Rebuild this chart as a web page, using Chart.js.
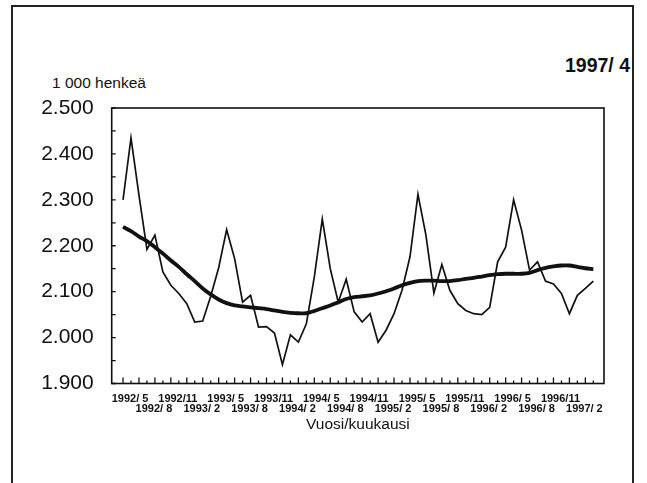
<!DOCTYPE html>
<html>
<head>
<meta charset="utf-8">
<script src="https://cdn.jsdelivr.net/npm/chart.js@4.4.0/dist/chart.umd.min.js"></script>
<style>
  body { margin: 0; background: #fff; overflow: hidden; }
  #wrap { position: relative; width: 647px; height: 483px; font-family: "Liberation Sans", Arial, sans-serif; color: #111; }
  #frame { position: absolute; left: 11px; top: 5px; width: 619px; height: 500px; border: 2px solid #222; border-bottom: none; }
  #stamp { position: absolute; right: 17px; top: 56px; font-size: 19.5px; font-weight: bold; line-height: 1; }
  #unit { position: absolute; left: 52px; top: 75px; font-size: 15.5px; line-height: 1; }
  canvas { position: absolute; left: 0; top: 0; }
</style>
</head>
<body>
<div id="wrap">
  <div id="frame"></div>
  <div id="stamp">1997/ 4</div>
  <div id="unit">1 000 henkeä</div>
  <canvas id="chart" width="647" height="483"></canvas>
</div>
<script>
// Months, 1992/5 - 1997/4
const months = [
	'1992/ 5', '1992/ 6', '1992/ 7', '1992/ 8', '1992/ 9', '1992/10', '1992/11', '1992/12',
	'1993/ 1', '1993/ 2', '1993/ 3', '1993/ 4', '1993/ 5', '1993/ 6', '1993/ 7', '1993/ 8', '1993/ 9', '1993/10', '1993/11', '1993/12',
	'1994/ 1', '1994/ 2', '1994/ 3', '1994/ 4', '1994/ 5', '1994/ 6', '1994/ 7', '1994/ 8', '1994/ 9', '1994/10', '1994/11', '1994/12',
	'1995/ 1', '1995/ 2', '1995/ 3', '1995/ 4', '1995/ 5', '1995/ 6', '1995/ 7', '1995/ 8', '1995/ 9', '1995/10', '1995/11', '1995/12',
	'1996/ 1', '1996/ 2', '1996/ 3', '1996/ 4', '1996/ 5', '1996/ 6', '1996/ 7', '1996/ 8', '1996/ 9', '1996/10', '1996/11', '1996/12',
	'1997/ 1', '1997/ 2', '1997/ 3', '1997/ 4'
];

// Monthly values, 1 000 persons (millions on the axis)
const monthly = [
	2.300, 2.435, 2.310, 2.192, 2.223, 2.143, 2.114, 2.096, 2.074, 2.034, 2.036, 2.090,
	2.152, 2.235, 2.172, 2.077, 2.092, 2.023, 2.024, 2.010, 1.941, 2.006, 1.990, 2.030,
	2.132, 2.258, 2.150, 2.077, 2.127, 2.056, 2.034, 2.052, 1.990, 2.016, 2.052, 2.103,
	2.176, 2.312, 2.223, 2.097, 2.159, 2.103, 2.074, 2.059, 2.052, 2.050, 2.066, 2.165,
	2.197, 2.300, 2.234, 2.147, 2.165, 2.123, 2.117, 2.096, 2.052, 2.092, 2.107, 2.123
];

// Trend
const trend = [
	2.241, 2.232, 2.220, 2.210, 2.197, 2.183, 2.168, 2.154, 2.138, 2.123, 2.107, 2.094,
	2.083, 2.075, 2.070, 2.068, 2.066, 2.064, 2.062, 2.059, 2.056, 2.054, 2.053, 2.053,
	2.058, 2.064, 2.070, 2.077, 2.084, 2.088, 2.090, 2.092, 2.096, 2.101, 2.107, 2.114,
	2.119, 2.123, 2.124, 2.124, 2.123, 2.123, 2.125, 2.128, 2.130, 2.133, 2.136, 2.138,
	2.139, 2.139, 2.139, 2.141, 2.147, 2.152, 2.155, 2.157, 2.157, 2.154, 2.151, 2.149
];

// every third month gets a label, in two rows
const labelStep = 3;

const yTicks = [1.9, 2.0, 2.1, 2.2, 2.3, 2.4, 2.5];

Chart.defaults.font.family = '"Liberation Sans", Arial, sans-serif';
Chart.defaults.color = '#111';

// box round the plot and inward tick marks
const axisBox = {
	id: 'axisBox',
	afterDatasetsDraw( chart ) {
		const ctx = chart.ctx,
			area = chart.chartArea,
			xs = chart.scales.x,
			ys = chart.scales.y;

		ctx.save();
		ctx.strokeStyle = '#111';
		ctx.lineWidth = 1.6;
		ctx.strokeRect( area.left, area.top, area.right - area.left, area.bottom - area.top );

		ctx.lineWidth = 1.3;
		ctx.beginPath();
		months.forEach( function( m, i ) {
			const x = xs.getPixelForValue( i );
			const len = i % 2 === 0 ? 6 : 3;
			ctx.moveTo( x, area.bottom );
			ctx.lineTo( x, area.bottom - len );
		} );
		for ( let k = 0; k < yTicks.length; k++ ) {
			const y = ys.getPixelForValue( yTicks[k] );
			ctx.moveTo( area.left, y );
			ctx.lineTo( area.left + 4, y );
			if ( k < yTicks.length - 1 ) {
				const ym = ys.getPixelForValue( ( yTicks[k] + yTicks[k + 1] ) / 2 );
				ctx.moveTo( area.left, ym );
				ctx.lineTo( area.left + 4, ym );
			}
		}
		ctx.stroke();
		ctx.restore();
	}
};

const ctx = document.getElementById( 'chart' ).getContext( '2d' );
new Chart( ctx, {
	type: 'line',
	data: {
		datasets: [
			{
				label: 'Kuukausi',
				data: monthly.map( function( v, i ) { return { x: i, y: v }; } ),
				borderColor: '#111',
				borderWidth: 1.7,
				pointRadius: 0,
				tension: 0
			},
			{
				label: 'Trendi',
				data: trend.map( function( v, i ) { return { x: i, y: v }; } ),
				borderColor: '#111',
				borderWidth: 3.8,
				pointRadius: 0,
				tension: 0.3
			}
		]
	},
	options: {
		responsive: false,
		animation: false,
		layout: { padding: { left: 0, right: 43, top: 108, bottom: 51 } },
		plugins: {
			legend: { display: false },
			tooltip: { enabled: false }
		},
		scales: {
			x: {
				type: 'linear',
				min: -1.42,
				max: 60.34,
				grid: { display: false },
				border: { display: false },
				afterBuildTicks: function( scale ) {
					const t = [];
					for ( let i = 0; i < months.length; i += labelStep ) {
						t.push( { value: i } );
					}
					scale.ticks = t;
				},
				afterFit: function( scale ) {
					scale.height = 48.5;
				},
				ticks: {
					autoSkip: false,
					maxRotation: 0,
					minRotation: 0,
					padding: 2,
					labelOffset: 7,
					font: { size: 11, weight: 'bold', lineHeight: 0.95 },
					callback: function( value ) {
						const row = ( value / labelStep ) % 2;
						return row === 0 ? [ months[value], '' ] : [ '', months[value] ];
					}
				},
				title: {
					display: true,
					text: 'Vuosi/kuukausi',
					font: { size: 15.5, lineHeight: 1 },
					padding: 0
				}
			},
			y: {
				min: 1.9,
				max: 2.5,
				grid: { display: false },
				border: { display: false },
				afterBuildTicks: function( scale ) {
					scale.ticks = yTicks.map( function( v ) { return { value: v }; } );
				},
				afterFit: function( scale ) {
					scale.width = 111.7;
				},
				ticks: {
					padding: 10,
					font: { size: 21 },
					callback: function( value ) {
						return value.toFixed( 3 );
					}
				}
			}
		}
	},
	plugins: [ axisBox ]
} );
</script>
</body>
</html>
